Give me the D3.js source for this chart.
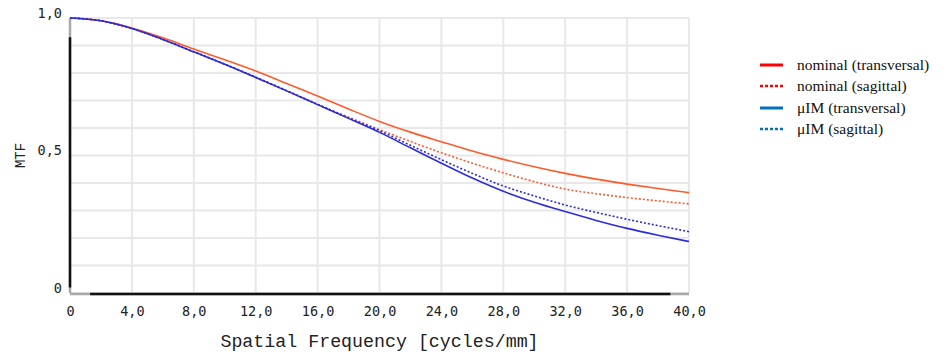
<!DOCTYPE html>
<html>
<head>
<meta charset="utf-8">
<script src="https://cdn.jsdelivr.net/npm/d3@7"></script>
<style>
  body { margin: 0; background: #fff; }
  svg { display: block; }
</style>
</head>
<body>
<div id="chart"></div>
<script>
const freq = [0, 2, 4, 6, 8, 10, 12, 14, 16, 18, 20, 22, 24, 26, 28, 30, 32, 34, 36, 38, 40];
const nominalT = [1.0, 0.99, 0.964, 0.928, 0.887, 0.848, 0.807, 0.762, 0.716, 0.669, 0.624, 0.585, 0.55, 0.516, 0.486, 0.459, 0.435, 0.414, 0.396, 0.38, 0.365];
const nominalS = [1.0, 0.99, 0.962, 0.922, 0.877, 0.832, 0.784, 0.735, 0.686, 0.639, 0.594, 0.551, 0.51, 0.472, 0.437, 0.405, 0.378, 0.361, 0.347, 0.335, 0.324];
const uimT = [1.0, 0.99, 0.962, 0.922, 0.877, 0.832, 0.784, 0.735, 0.685, 0.635, 0.584, 0.528, 0.472, 0.418, 0.37, 0.33, 0.296, 0.264, 0.235, 0.21, 0.187];
const uimS = [1.0, 0.99, 0.962, 0.922, 0.877, 0.832, 0.785, 0.736, 0.686, 0.637, 0.59, 0.537, 0.485, 0.435, 0.389, 0.353, 0.32, 0.293, 0.268, 0.245, 0.223];

const xTicks = [0, 4, 8, 12, 16, 20, 24, 28, 32, 36, 40];
const yTicks = [0, 0.5, 1.0];
const yGrid = d3.range(0, 11).map(i => i / 10);

const series = [
  { name: "nominal (transversal)", values: nominalT, color: "#ff5a2b", legendColor: "#ff0000", dash: null },
  { name: "nominal (sagittal)", values: nominalS, color: "#ff5a2b", legendColor: "#ff0000", dash: "2,2" },
  { name: "\u03bcIM (transversal)", values: uimT, color: "#2c2cdc", legendColor: "#0070c0", dash: null },
  { name: "\u03bcIM (sagittal)", values: uimS, color: "#2c2cdc", legendColor: "#0070c0", dash: "2,2" }
];

const width = 952;
const height = 354;
const marginLeft = 70;
const plotRight = 689;
const marginTop = 18;
const plotBottom = 293;

const x = d3.scaleLinear().domain([0, 40]).range([marginLeft, plotRight]);
const y = d3.scaleLinear().domain([0, 1]).range([plotBottom, marginTop]);

const svg = d3.select("#chart").append("svg")
  .attr("width", width)
  .attr("height", height)
  .attr("viewBox", [0, 0, width, height]);

// grid
const grid = svg.append("g").attr("stroke", "#e8e8e8").attr("stroke-width", 2);
grid.selectAll(".vx")
  .data(xTicks)
  .join("line")
    .attr("x1", d => x(d)).attr("x2", d => x(d))
    .attr("y1", y(1)).attr("y2", y(0));
grid.selectAll(".hy")
  .data(yGrid)
  .join("line")
    .attr("x1", x(0)).attr("x2", x(40))
    .attr("y1", d => y(d)).attr("y2", d => y(d));

// axis lines: gray near the ends, black in between
svg.append("line")
  .attr("x1", x(0)).attr("x2", x(0))
  .attr("y1", y(1)).attr("y2", y(0))
  .attr("stroke", "#a8a8a8").attr("stroke-width", 2.5);
svg.append("line")
  .attr("x1", x(0)).attr("x2", x(0))
  .attr("y1", y(0.93)).attr("y2", y(0.02))
  .attr("stroke", "#111").attr("stroke-width", 2.5);
svg.append("line")
  .attr("x1", x(0)).attr("x2", x(40))
  .attr("y1", y(0) + 1).attr("y2", y(0) + 1)
  .attr("stroke", "#a8a8a8").attr("stroke-width", 2.5);
svg.append("line")
  .attr("x1", x(1.3)).attr("x2", x(38.8))
  .attr("y1", y(0) + 1).attr("y2", y(0) + 1)
  .attr("stroke", "#111").attr("stroke-width", 2.5);

// tick labels
const fmt = d => d === 0 ? "0" : d.toFixed(1).replace(".", ",");
svg.append("g")
  .attr("transform", `translate(0,${plotBottom})`)
  .call(d3.axisBottom(x).tickValues(xTicks).tickSize(0).tickPadding(13).tickFormat(fmt))
  .call(g => g.select(".domain").remove())
  .call(g => g.selectAll("text")
    .attr("font-family", "'DejaVu Sans Mono', monospace")
    .attr("font-size", 13.5)
    .attr("fill", "#222"));

svg.append("g")
  .attr("transform", `translate(${marginLeft},0)`)
  .call(d3.axisLeft(y).tickValues(yTicks).tickSize(0).tickPadding(8).tickFormat(fmt))
  .call(g => g.select(".domain").remove())
  .call(g => g.selectAll("text")
    .attr("font-family", "'DejaVu Sans Mono', monospace")
    .attr("font-size", 13.5)
    .attr("fill", "#222")
    .attr("dy", "-0.05em"));

// axis titles
svg.append("text")
  .attr("x", (x(0) + x(40)) / 2)
  .attr("y", 347)
  .attr("text-anchor", "middle")
  .attr("font-family", "'Liberation Mono', monospace")
  .attr("font-size", 18.3)
  .attr("fill", "#222")
  .text("Spatial Frequency [cycles/mm]");

svg.append("text")
  .attr("transform", `translate(25,${y(0.5)}) rotate(-90)`)
  .attr("text-anchor", "middle")
  .attr("font-family", "'Liberation Mono', monospace")
  .attr("font-size", 14)
  .attr("fill", "#222")
  .text("MTF");

// curves
const line = d3.line()
  .x((d, i) => x(freq[i]))
  .y(d => y(d))
  .curve(d3.curveMonotoneX);

svg.append("g")
  .selectAll("path")
  .data(series)
  .join("path")
    .attr("fill", "none")
    .attr("stroke", d => d.color)
    .attr("stroke-width", 1.6)
    .attr("stroke-dasharray", d => d.dash)
    .attr("d", d => line(d.values));

// legend
const legend = svg.append("g").attr("transform", "translate(760,65)");
const rowY = [0, 21, 43, 64];
const rows = legend.selectAll("g")
  .data(series)
  .join("g")
    .attr("transform", (d, i) => `translate(0,${rowY[i]})`);
rows.append("line")
  .attr("x1", 0).attr("x2", 23)
  .attr("stroke", d => d.legendColor)
  .attr("stroke-width", d => d.dash ? 2.5 : 3)
  .attr("stroke-dasharray", d => d.dash ? "3,2" : null);
rows.append("text")
  .attr("x", 37)
  .attr("y", 5)
  .attr("font-family", "'Liberation Serif', 'Times New Roman', serif")
  .attr("font-size", 15.5)
  .attr("fill", "#111")
  .text(d => d.name);
</script>
</body>
</html>
